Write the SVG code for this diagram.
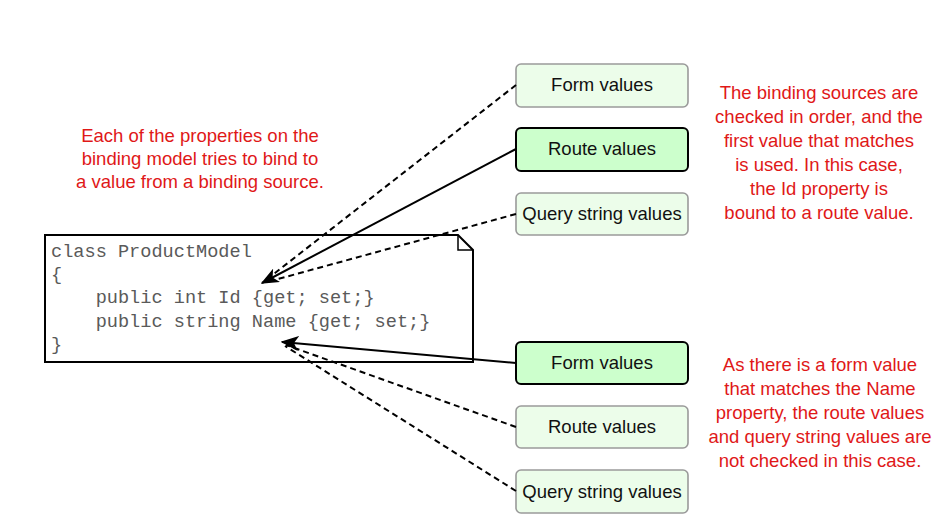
<svg xmlns="http://www.w3.org/2000/svg" width="950" height="525" viewBox="0 0 950 525">
<defs>
<style>
.src{fill:#ecfdea;stroke:#9a9a9a;stroke-width:1.6}
.hit{fill:#ccffcc;stroke:#000;stroke-width:2}
.lbl{font-family:"Liberation Sans",Arial,sans-serif;font-size:18.5px;fill:#111;text-anchor:middle}
.note{font-family:"Liberation Sans",Arial,sans-serif;font-size:18.5px;fill:#e01818;text-anchor:middle}
.code{font-family:"Liberation Mono","Courier New",monospace;font-size:18.6px;fill:#5a5a5a}
.dash{fill:none;stroke:#000;stroke-width:2;stroke-dasharray:6,4}
.solid{fill:none;stroke:#000;stroke-width:2}
</style>
<marker id="ah" viewBox="0 0 12 10" refX="11" refY="5" markerWidth="9" markerHeight="7.5" orient="auto" markerUnits="strokeWidth">
<path d="M0,0 L12,5 L0,10 L3,5 z" fill="#000"/>
</marker>
</defs>
<rect width="950" height="525" fill="#fff"/>

<g id="model">
<path d="M45,235 L458,235 L473,250 L473,362 L45,362 Z" fill="#fff" stroke="#000" stroke-width="2"/>
<path d="M458,235 L458,250 L473,250" fill="none" stroke="#000" stroke-width="1.5"/>
<text class="code" x="51" y="257">class ProductModel</text>
<text class="code" x="51" y="280">{</text>
<text class="code" x="51" y="303" xml:space="preserve">    public int Id {get; set;}</text>
<text class="code" x="51" y="327" xml:space="preserve">    public string Name {get; set;}</text>
<text class="code" x="51" y="350">}</text>
</g>

<g id="form1"><rect class="src" x="516" y="64" width="172" height="43" rx="5"/><text class="lbl" x="602" y="91">Form values</text></g>
<g id="route1"><rect class="hit" x="516" y="128" width="172" height="43" rx="5"/><text class="lbl" x="602" y="155">Route values</text></g>
<g id="query1"><rect class="src" x="516" y="193" width="172" height="42" rx="5"/><text class="lbl" x="602" y="220">Query string values</text></g>

<g id="form2"><rect class="hit" x="516" y="342" width="172" height="42" rx="5"/><text class="lbl" x="602" y="369">Form values</text></g>
<g id="route2"><rect class="src" x="516" y="406" width="172" height="42" rx="5"/><text class="lbl" x="602" y="433">Route values</text></g>
<g id="query2"><rect class="src" x="516" y="470" width="172" height="43" rx="5"/><text class="lbl" x="602" y="498">Query string values</text></g>

<g id="connectors">
<path class="dash" d="M516,85 L266,280"/>
<path class="dash" d="M516,214 L267,282"/>
<path class="solid" d="M516,149 L262,283" marker-end="url(#ah)"/>
<path class="dash" d="M516,427 L286,345"/>
<path class="dash" d="M516,491 L285,346"/>
<path class="solid" d="M516,363 L282,342" marker-end="url(#ah)"/>
</g>

<g id="note-left">
<text class="note" x="200" y="142">Each of the properties on the</text>
<text class="note" x="200" y="165">binding model tries to bind to</text>
<text class="note" x="200" y="188">a value from a binding source.</text>
</g>
<g id="note-top">
<text class="note" x="819" y="99">The binding sources are</text>
<text class="note" x="819" y="123">checked in order, and the</text>
<text class="note" x="819" y="147">first value that matches</text>
<text class="note" x="819" y="171">is used. In this case,</text>
<text class="note" x="819" y="195">the Id property is</text>
<text class="note" x="819" y="219">bound to a route value.</text>
</g>
<g id="note-bottom">
<text class="note" x="820" y="371">As there is a form value</text>
<text class="note" x="820" y="395">that matches the Name</text>
<text class="note" x="820" y="419">property, the route values</text>
<text class="note" x="820" y="443">and query string values are</text>
<text class="note" x="820" y="467">not checked in this case.</text>
</g>
</svg>
